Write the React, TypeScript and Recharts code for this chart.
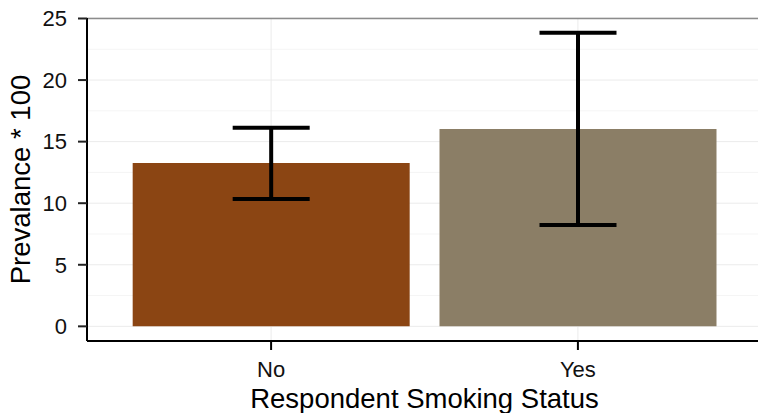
import React from 'react'
import {
  BarChart,
  Bar,
  Cell,
  XAxis,
  YAxis,
  CartesianGrid,
  ErrorBar,
  ReferenceLine,
  Label
} from 'recharts'

// smoking status categories (x positions 1, 2)
const categories = ['No', 'Yes']
const positions = [1, 2]
// prevalence * 100 with 95% bounds
const prevalence = [13.27, 16.03]
const lowerBound = [10.34, 8.23]
const upperBound = [16.13, 23.85]
const barColors = ['#8B4513', '#8B7E66']

const yTicks = [0, 5, 10, 15, 20, 25]
const yMinorTicks = [2.5, 7.5, 12.5, 17.5, 22.5]

const data = categories.map((name, i) => ({
  name,
  x: positions[i],
  value: prevalence[i],
  err: [prevalence[i] - lowerBound[i], upperBound[i] - prevalence[i]]
}))

const font = '"Liberation Sans", Arial, sans-serif'

export default function App() {
  return (
    <div style={{ position: 'absolute', left: 0, top: 0, width: 758, height: 413, overflow: 'hidden', background: '#fff' }}>
      <BarChart
        width={766}
        height={413}
        data={data}
        margin={{ top: 18, right: 4, bottom: 0, left: 0 }}
        style={{ fontFamily: font }}
      >
        {/* minor gridlines, then major ones */}
        <CartesianGrid stroke="#f5f5f5" strokeWidth={1} vertical={false} horizontalValues={yMinorTicks} />
        <CartesianGrid stroke="#ebebeb" strokeWidth={1} />
        <ReferenceLine y={25} stroke="#8c8c8c" strokeWidth={1.5} />
        <XAxis
          dataKey="x"
          type="number"
          domain={[0.4, 2.6]}
          ticks={positions}
          tickFormatter={(v: number) => categories[v - 1]}
          height={72}
          tickSize={9}
          tickMargin={11}
          axisLine={{ stroke: '#000', strokeWidth: 2 }}
          tickLine={{ stroke: '#000', strokeWidth: 2 }}
          tick={{ fontSize: 22, fill: '#111', fontFamily: font }}
        >
          <Label
            value="Respondent Smoking Status"
            position="insideBottom"
            offset={5.5}
            style={{ fontSize: 27.5, fill: '#000', fontFamily: font }}
          />
        </XAxis>
        <YAxis
          type="number"
          domain={[-1.19, 25.04]}
          ticks={yTicks}
          allowDataOverflow
          width={87}
          tickSize={9}
          tickMargin={11}
          axisLine={{ stroke: '#000', strokeWidth: 2 }}
          tickLine={{ stroke: '#222', strokeWidth: 2 }}
          tick={{ fontSize: 22, fill: '#111', fontFamily: font }}
        >
          <Label
            value="Prevalance * 100"
            angle={-90}
            position="insideLeft"
            offset={20}
            style={{ fontSize: 27.5, fill: '#000', fontFamily: font, textAnchor: 'middle' }}
          />
        </YAxis>
        <Bar dataKey="value" barSize={277} isAnimationActive={false}>
          {data.map((d, i) => (
            <Cell key={d.name} fill={barColors[i]} />
          ))}
          <ErrorBar dataKey="err" width={38.5} stroke="#000" strokeWidth={4} isAnimationActive={false} />
        </Bar>
      </BarChart>
    </div>
  )
}
